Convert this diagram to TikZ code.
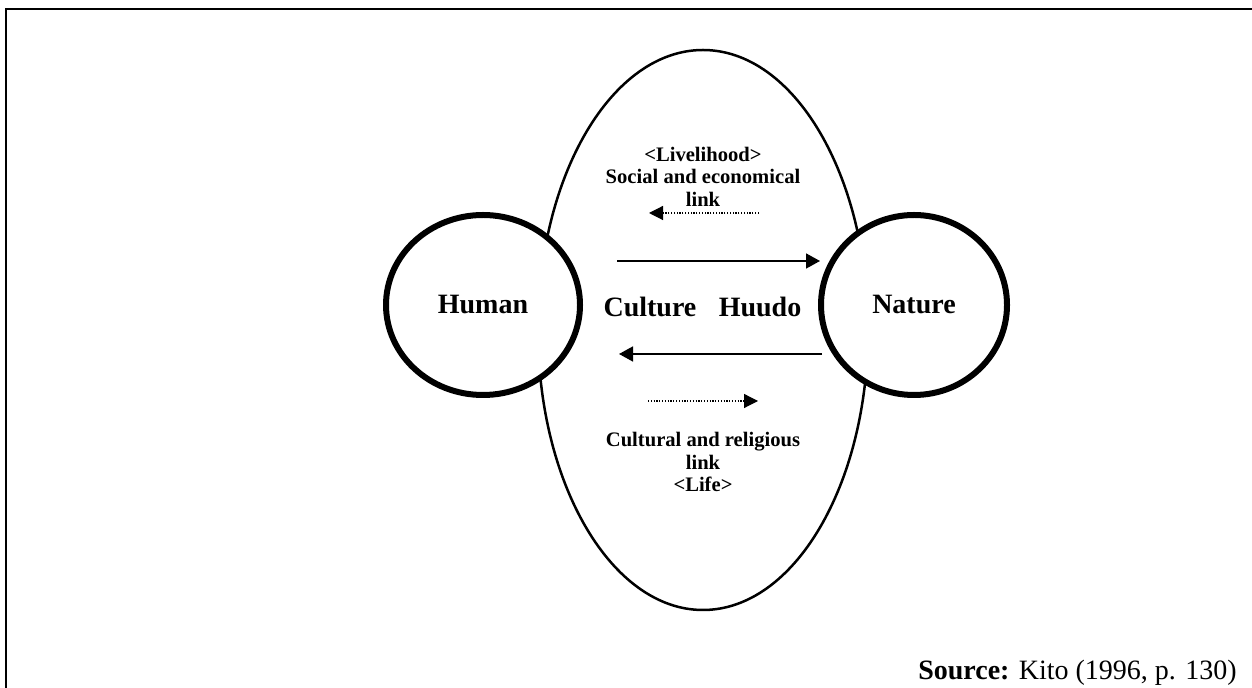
\documentclass[tikz,border=0pt]{standalone}
\usepackage{fontspec}
\setmainfont{Liberation Serif}
\usetikzlibrary{shapes.geometric,arrows.meta}

\tikzset{
  frameline/.style={line width=1pt},
  realm/.style={draw, ellipse, line width=1.25pt, inner sep=0pt},
  pole/.style={draw, ellipse, fill=white, line width=3pt, inner sep=0pt,
               font=\fontsize{14}{16}\selectfont\bfseries},
  flow/.style={line width=0.8pt, -{Triangle[length=7pt,width=7.5pt]}},
  dotflow/.style={line width=0.6pt, dash pattern=on 0.6pt off 0.8pt,
                  -{Triangle[length=7pt,width=7pt]}},
  linklabel/.style={align=center, inner sep=0pt,
                    font=\fontsize{10.3}{11.25}\selectfont\bfseries},
  bigword/.style={anchor=base, inner sep=0pt,
                  font=\fontsize{14}{16}\selectfont\bfseries}
}

\begin{document}
\begin{tikzpicture}[x=0.5pt, y=-0.5pt]
  \useasboundingbox (0,0) rectangle (1252,688);

  % open frame: top and left edges
  \coordinate (ftl) at (6,9);
  \coordinate (ftr) at (1252,9);
  \coordinate (fbl) at (6,688);
  \draw[frameline] (fbl) -- (ftl) -- (ftr);

  % the Huudo realm between the two poles
  \node[realm, minimum width=165pt, minimum height=280pt] (huudo) at (703,330) {};

  % the two poles
  \node[pole, minimum width=97pt, minimum height=90pt] (human) at (483,305) {Human};
  \node[pole, minimum width=93pt, minimum height=90pt] (nature) at (914,305) {Nature};

  % centre words
  \node[bigword] (culture) at (650,317) {Culture};
  \node[bigword] (huudoword) at (760,317) {Huudo};

  % link labels
  \node[linklabel] (livelihood) at (703,176.5) {<Livelihood>\\Social and economical\\link};
  \node[linklabel] (life) at (703,462) {Cultural and religious\\link\\<Life>};

  % arrow end points
  \coordinate (d1s) at (759,213);
  \coordinate (d1e) at (649,213);
  \coordinate (s1s) at (617,261);
  \coordinate (s1e) at (820,261);
  \coordinate (s2s) at (822,354);
  \coordinate (s2e) at (619,354);
  \coordinate (d2s) at (648,401);
  \coordinate (d2e) at (758,401);

  \draw[dotflow] (d1s) -- (d1e);
  \draw[flow] (s1s) -- (s1e);
  \draw[flow] (s2s) -- (s2e);
  \draw[dotflow] (d2s) -- (d2e);

  % source line
  \node[anchor=base east, inner sep=0pt, font=\fontsize{14}{16}\selectfont] (source)
    at (1237,680) {\textbf{Source:} Kito (1996, p. 130)};
\end{tikzpicture}
\end{document}
